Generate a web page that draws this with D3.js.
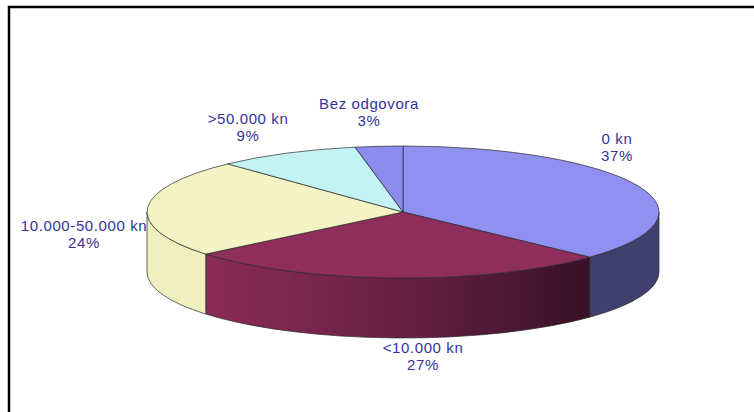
<!DOCTYPE html>
<html>
<head>
<meta charset="utf-8">
<script src="https://cdn.jsdelivr.net/npm/d3@7"></script>
<style>
  body { margin: 0; background: #fff; }
  svg { display: block; }
</style>
</head>
<body>
<script>
// pie data
const categories = ['0 kn', '<10.000 kn', '10.000-50.000 kn', '>50.000 kn', 'Bez odgovora'];
const values = [37, 27, 24, 9, 3];

// colours for top faces and side walls
const topColors = ['#9090f0', '#8f2d5d', '#f3f3c3', '#c3f3f3', '#8c8cec'];
const sideColors = ['#40406e', 'url(#wineSide)', '#efefbf', '#b0e0e0', '#50508a'];

// where each label sits, relative to the pie centre (Excel moved them by hand)
const labelSpots = [[214, -68], [20, 141], [-319, 19], [-155, -88], [-34, -103]];

const w = 754;
const h = 412;
const cx = 403, cy = 212, rx = 256, ry = 66, depth = 60;

const svg = d3.select('body').append('svg').attr('width', w).attr('height', h);

// frame
svg.append('rect')
  .attr('x', 9).attr('y', 7)
  .attr('width', w + 20).attr('height', h + 20)
  .attr('fill', 'none')
  .attr('stroke', '#000')
  .attr('stroke-width', 2.5);

const defs = svg.append('defs');
const grad = defs.append('linearGradient')
  .attr('id', 'wineSide')
  .attr('gradientUnits', 'userSpaceOnUse')
  .attr('x1', cx - rx * 0.78).attr('x2', cx + rx * 0.76)
  .attr('y1', 0).attr('y2', 0);
grad.append('stop').attr('offset', 0).attr('stop-color', '#8c2b5a');
grad.append('stop').attr('offset', 0.5).attr('stop-color', '#672046');
grad.append('stop').attr('offset', 1).attr('stop-color', '#361026');

const x = d3.scaleLinear().domain([-1, 1]).range([cx - rx, cx + rx]);
const y = d3.scaleLinear().domain([-1, 1]).range([cy - ry, cy + ry]);

const px = (a) => x(Math.sin(a));
const py = (a) => y(-Math.cos(a));

const pie = d3.pie().sort(null).value((d) => d);
const arcs = pie(values);
const total = d3.sum(values);

// side walls (only the front half is visible)
const sides = svg.append('g');
arcs.forEach((d, i) => {
  const s = Math.max(d.startAngle, Math.PI / 2);
  const e = Math.min(d.endAngle, Math.PI * 1.5);
  if (s >= e) return;
  const p = d3.path();
  p.moveTo(px(s), py(s));
  const path =
    `M${px(s)},${py(s)}` +
    `A${rx},${ry} 0 0 1 ${px(e)},${py(e)}` +
    `L${px(e)},${py(e) + depth}` +
    `A${rx},${ry} 0 0 0 ${px(s)},${py(s) + depth}Z`;
  sides.append('path')
    .attr('d', path)
    .attr('fill', sideColors[i])
    .attr('stroke', '#2a2a2a')
    .attr('stroke-width', 0.7);
});

// top faces
const tops = svg.append('g');
arcs.forEach((d, i) => {
  const large = d.endAngle - d.startAngle > Math.PI ? 1 : 0;
  const path =
    `M${cx},${cy}` +
    `L${px(d.startAngle)},${py(d.startAngle)}` +
    `A${rx},${ry} 0 ${large} 1 ${px(d.endAngle)},${py(d.endAngle)}Z`;
  tops.append('path')
    .attr('d', path)
    .attr('fill', topColors[i])
    .attr('stroke', '#2a2a2a')
    .attr('stroke-width', 0.7)
    .attr('stroke-linejoin', 'round');
});

// labels
const fmt = d3.format('.0%');
const labels = svg.append('g')
  .attr('font-family', 'Arial, "Liberation Sans", sans-serif')
  .attr('font-size', 15)
  .attr('fill', '#333399')
  .attr('text-anchor', 'middle');

arcs.forEach((d, i) => {
  const t = labels.append('text')
    .attr('x', cx + labelSpots[i][0])
    .attr('y', cy + labelSpots[i][1])
    .attr('letter-spacing', 0.6);
  t.append('tspan').attr('x', cx + labelSpots[i][0]).text(categories[i]);
  t.append('tspan').attr('x', cx + labelSpots[i][0]).attr('dy', 17).text(fmt(d.value / total));
});
</script>
</body>
</html>
